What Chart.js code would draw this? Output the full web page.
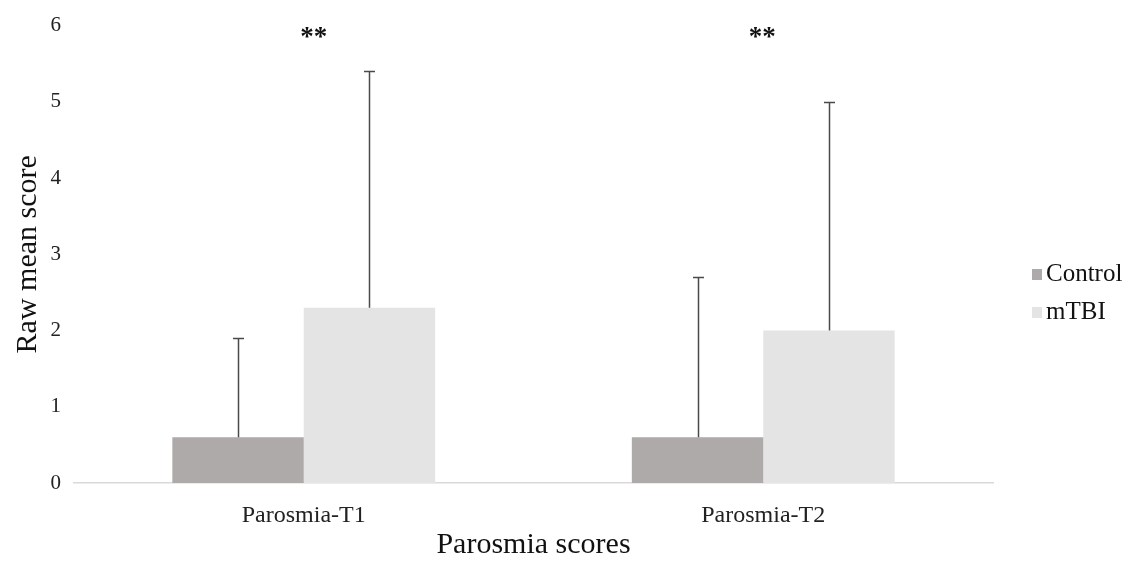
<!DOCTYPE html>
<html>
<head>
<meta charset="utf-8">
<script src="https://cdn.jsdelivr.net/npm/chart.js@4.4.0/dist/chart.umd.min.js"></script>
<style>
   html, body { margin: 0; padding: 0; background: #ffffff; }
   #wrap { width: 1128px; height: 562px; }
</style>
</head>
<body>
<div id="wrap"><canvas id="parosmiaChart"></canvas></div>
<script>
// #region Data
const categories = ['Parosmia-T1', 'Parosmia-T2'];
const controlMeans = [0.6, 0.6];
const mtbiMeans = [2.3, 2.0];
const controlErrTop = [1.9, 2.7];
const mtbiErrTop = [5.4, 5.0];
const sigMarks = ['**', '**'];
const sigLevel = 5.8;
const yTicks = [0, 1, 2, 3, 4, 5, 6];
// #endregion

const serif = '"Liberation Serif", "Times New Roman", serif';

// ***********************
// Purpose: draws the upward-only error bars and the significance stars
// ***********************
const errorBarPlugin = {
   id: 'errorBars',
   afterDatasetsDraw(chart) {
      const ctx = chart.ctx;
      const yScale = chart.scales.y;
      const tops = [controlErrTop, mtbiErrTop];
      const starShift = [10, -1];
      ctx.save();
      ctx.strokeStyle = '#4a4a4a';
      ctx.lineWidth = 1.5;
      tops.forEach(function (arr, dsIdx) {
         const meta = chart.getDatasetMeta(dsIdx);
         meta.data.forEach(function (bar, i) {
            const x = Math.round(bar.x) + 0.5;
            const yTop = Math.round(yScale.getPixelForValue(arr[i])) + 0.5;
            ctx.beginPath();
            ctx.moveTo(x, bar.y);
            ctx.lineTo(x, yTop);
            ctx.moveTo(x - 5.5, yTop);
            ctx.lineTo(x + 5.5, yTop);
            ctx.stroke();
         });
      });
      ctx.fillStyle = '#111111';
      ctx.font = 'bold 27px ' + serif;
      ctx.textAlign = 'center';
      ctx.textBaseline = 'middle';
      sigMarks.forEach(function (txt, i) {
         const x = chart.scales.x.getPixelForValue(i) + starShift[i];
         ctx.fillText(txt, x, yScale.getPixelForValue(sigLevel) - 3);
      });
      ctx.restore();
   }
};

// ***********************
// Purpose: legend on the right, tight gap between swatch and label
// ***********************
const sideLegendPlugin = {
   id: 'sideLegend',
   afterDraw(chart) {
      const ctx = chart.ctx;
      const boxX = chart.chartArea.right + 39;
      ctx.save();
      ctx.font = '25px ' + serif;
      ctx.textAlign = 'left';
      ctx.textBaseline = 'alphabetic';
      chart.data.datasets.forEach(function (ds, i) {
         const cy = 274.5 + i * 38;
         ctx.fillStyle = ds.backgroundColor;
         ctx.fillRect(boxX, cy - 5.5, 10, 11);
         ctx.fillStyle = '#111111';
         ctx.fillText(ds.label, boxX + 14, cy + 6.5);
      });
      ctx.restore();
   }
};

const config = {
   type: 'bar',
   data: {
      labels: categories,
      datasets: [
         {
            label: 'Control',
            data: controlMeans,
            backgroundColor: '#aeaaaa',
            borderWidth: 0,
            barPercentage: 1.0,
            categoryPercentage: 0.572
         },
         {
            label: 'mTBI',
            data: mtbiMeans,
            backgroundColor: '#e4e4e4',
            borderWidth: 0,
            barPercentage: 1.0,
            categoryPercentage: 0.572
         }
      ]
   },
   options: {
      responsive: true,
      maintainAspectRatio: false,
      animation: false,
      layout: {
         padding: { top: 20, right: 135, bottom: 0, left: 6 }
      },
      plugins: {
         legend: { display: false },
         tooltip: { enabled: false }
      },
      scales: {
         x: {
            afterFit(axis) { axis.height = 79; },
            grid: { display: false, drawTicks: false },
            border: { display: true, color: '#d9d9d9', width: 1.5 },
            ticks: {
               color: '#222222',
               padding: 18,
               font: { family: serif, size: 24 }
            },
            title: {
               display: true,
               text: 'Parosmia scores',
               color: '#111111',
               padding: { top: 0, bottom: 2 },
               font: { family: serif, size: 30, lineHeight: 1.0 }
            }
         },
         y: {
            min: 0,
            max: 6,
            afterBuildTicks(axis) {
               axis.ticks = yTicks.map(v => ({ value: v }));
            },
            afterFit(axis) { axis.width = 68; },
            grid: { display: false, drawTicks: false },
            border: { display: false },
            ticks: {
               color: '#222222',
               padding: 13,
               font: { family: serif, size: 21 }
            },
            title: {
               display: true,
               text: 'Raw mean score',
               color: '#111111',
               padding: { bottom: 4 },
               font: { family: serif, size: 30 }
            }
         }
      }
   },
   plugins: [errorBarPlugin, sideLegendPlugin]
};

const myChart = new Chart(document.getElementById('parosmiaChart'), config);
</script>
</body>
</html>
